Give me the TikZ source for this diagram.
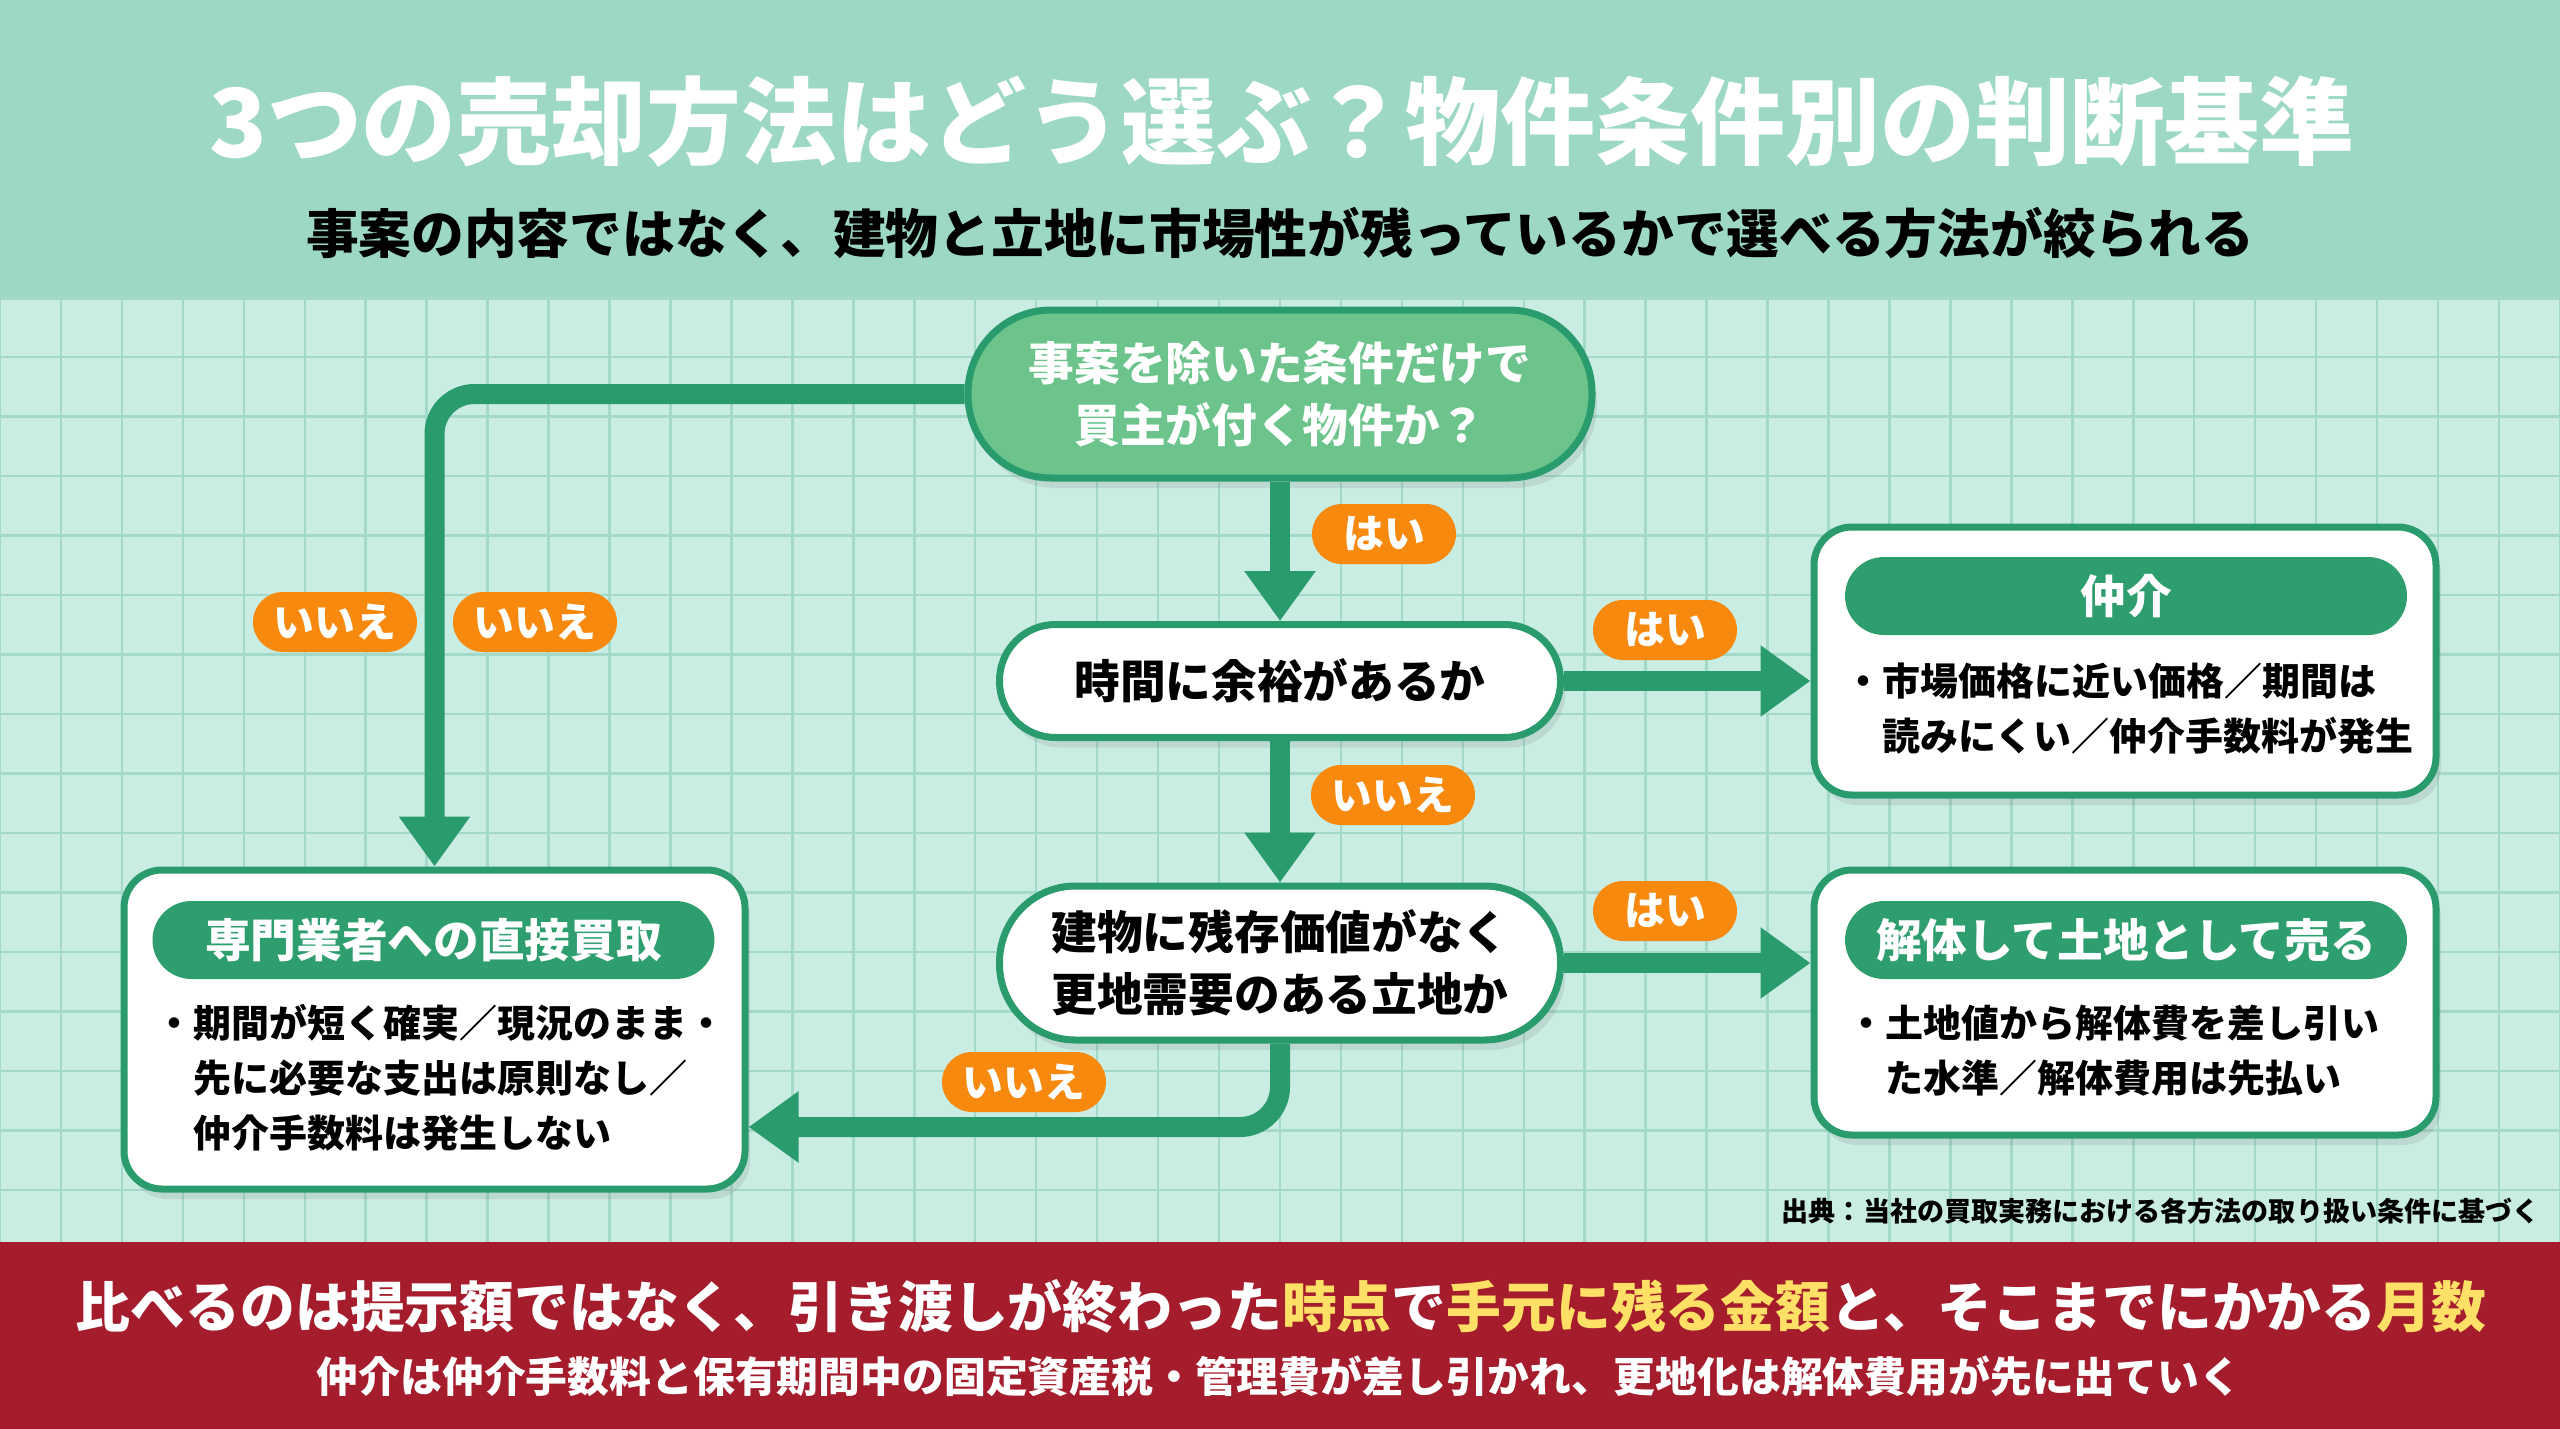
\documentclass[tikz,border=0pt]{standalone}
\usepackage{fontspec}
\setmainfont{Noto Sans CJK JP}
\usetikzlibrary{arrows.meta,positioning,shadows}
\definecolor{hdbg}{HTML}{9DD8C5}
\definecolor{gridbg}{HTML}{C9ECE3}
\definecolor{gridln}{HTML}{A3D9C9}
\definecolor{flow}{HTML}{2A9B6C}
\definecolor{startfill}{HTML}{6CC48C}
\definecolor{pillgreen}{HTML}{2E9E6E}
\definecolor{yesno}{HTML}{F7890F}
\definecolor{footred}{HTML}{A51D2D}
\definecolor{hilite}{HTML}{FFE066}

\begin{document}
\begin{tikzpicture}[>={Triangle[length=5mm,width=6.8mm]},every node/.style={font=\bfseries},
  flowline/.style={draw=flow,line width=2mm,rounded corners=4mm,->},
  question/.style={draw=flow,line width=0.7mm,fill=white,minimum width=5.61cm,inner sep=0pt,align=center,
    font=\fontsize{13}{17.6}\selectfont\bfseries,drop shadow={opacity=0.18,shadow xshift=0.5mm,shadow yshift=-1mm}},
  resultbox/.style={draw=flow,line width=0.7mm,fill=white,rounded corners=3.8mm,minimum width=6.22cm,
    drop shadow={opacity=0.18,shadow xshift=0.5mm,shadow yshift=-1mm}},
  headpill/.style={fill=pillgreen,text=white,rounded corners=3.9mm,minimum width=5.62cm,minimum height=0.78cm,
    inner sep=0pt,font=\fontsize{13}{15}\selectfont\bfseries},
  bodytext/.style={anchor=west,inner sep=0pt,align=left,font=\fontsize{10.8}{15.6}\selectfont\bfseries},
  yn/.style={fill=yesno,text=white,rounded corners=3mm,minimum height=0.6cm,inner xsep=1mm,inner ysep=0pt,
    font=\fontsize{11.6}{13}\selectfont\bfseries}]
  \useasboundingbox (0,0) rectangle (25.6,-14.29);
  \fill[hdbg] (0,0) rectangle (25.6,-2.975);
  \fill[gridbg] (0,-2.975) rectangle (25.6,-12.42);
  \foreach \i in {0,...,42} {
    \draw[gridln,line width=0.25mm] (\i*0.6095,-2.975) -- (\i*0.6095,-12.42);
    \draw[gridln,line width=0.25mm,opacity=0.3] (\i*0.6095,0) -- (\i*0.6095,-2.975);
  }
  \foreach \k in {1,...,15}
    \draw[gridln,line width=0.25mm] (0,-2.975-\k*0.595) -- (25.6,-2.975-\k*0.595);
  \foreach \k in {1,...,4}
    \draw[gridln,line width=0.25mm,opacity=0.3] (0,-2.975+\k*0.595) -- (25.6,-2.975+\k*0.595);
  \draw[gridln,line width=0.4mm] (0,-2.975) -- (25.6,-2.975);
  \fill[footred] (0,-12.42) rectangle (25.6,-14.29);

  \node[text=white,font=\fontsize{27}{32}\selectfont\bfseries] (title) at (12.82,-1.22) {3つの売却方法はどう選ぶ？物件条件別の判断基準};
  \node[font=\fontsize{15}{18}\selectfont\bfseries] (subtitle) at (12.80,-2.33) {事案の内容ではなく、建物と立地に市場性が残っているかで選べる方法が絞られる};

  \node[question,fill=startfill,text=white,minimum width=6.24cm,minimum height=1.68cm,rounded corners=8.3mm] (Q1) at (12.80,-3.94) {事案を除いた条件だけで\\買主が付く物件か？};
  \node[question,minimum height=1.13cm,rounded corners=5.6mm] (Q2) at (12.80,-6.81) {時間に余裕があるか};
  \node[question,minimum height=1.54cm,rounded corners=7.6mm] (Q3) at (12.80,-9.63) {建物に残存価値がなく\\更地需要のある立地か};

  \node[resultbox,minimum height=2.68cm] (B) at (21.25,-6.61) {};
  \node[headpill] (Bh) at (21.26,-5.96) {仲介};
  \node[bodytext] (Bt) at (18.44,-7.085) {・市場価格に近い価格／期間は\\\phantom{・}読みにくい／仲介手数料が発生};

  \node[resultbox,minimum height=2.65cm] (D) at (21.25,-10.025) {};
  \node[headpill] (Dh) at (21.26,-9.40) {解体して土地として売る};
  \node[bodytext] (Dt) at (18.47,-10.51) {・土地値から解体費を差し引い\\\phantom{・}た水準／解体費用は先払い};

  \node[resultbox,minimum width=6.21cm,minimum height=3.19cm] (K) at (4.345,-10.295) {};
  \node[headpill] (Kh) at (4.335,-9.40) {専門業者への直接買取};
  \node[bodytext] (Kt) at (1.55,-10.78) {・期間が短く確実／現況のまま・\\\phantom{・}先に必要な支出は原則なし／\\\phantom{・}仲介手数料は発生しない};

  \draw[flowline] (Q1.west) -| (K.north);
  \draw[flowline] (Q1) -- (Q2);
  \draw[flowline] (Q2.east) -- (Q2.east -| B.west);
  \draw[flowline] (Q2) -- (Q3);
  \draw[flowline] (Q3.east) -- (Q3.east -| D.west);
  \draw[flowline] (Q3.south) |- ([yshift=-9.75mm]K.east);

  \node[yn,minimum width=1.44cm] (y1) at (13.84,-5.34) {はい};
  \node[yn,minimum width=1.44cm] (y2) at (16.65,-6.30) {はい};
  \node[yn,minimum width=1.64cm] (n2) at (13.93,-7.95) {いいえ};
  \node[yn,minimum width=1.44cm] (y3) at (16.65,-9.11) {はい};
  \node[yn,minimum width=1.64cm] (n3) at (10.24,-10.82) {いいえ};
  \node[yn,minimum width=1.64cm] (n1a) at (3.35,-6.22) {いいえ};
  \node[yn,minimum width=1.64cm] (n1b) at (5.35,-6.22) {いいえ};

  \node[anchor=east,font=\fontsize{7.7}{9}\selectfont\bfseries] (src) at (25.52,-12.11) {出典：当社の買取実務における各方法の取り扱い条件に基づく};
  \node[text=white,font=\fontsize{15.6}{18}\selectfont\bfseries] (foot1) at (12.81,-13.06) {比べるのは提示額ではなく、引き渡しが終わった\textcolor{hilite}{時点}で\textcolor{hilite}{手元に残る金額}と、そこまでにかかる\textcolor{hilite}{月数}};
  \node[text=white,font=\fontsize{11.9}{14}\selectfont\bfseries] (foot2) at (12.79,-13.76) {仲介は仲介手数料と保有期間中の固定資産税・管理費が差し引かれ、更地化は解体費用が先に出ていく};
\end{tikzpicture}
\end{document}
